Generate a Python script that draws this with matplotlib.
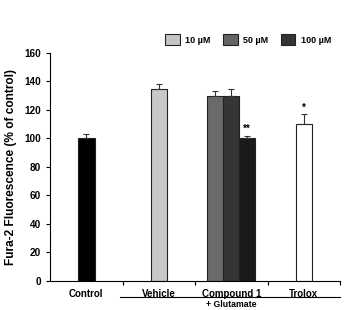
import numpy as np
import matplotlib.pyplot as plt
from matplotlib.patches import Patch

plt.rcParams['font.family'] = ['Liberation Sans', 'DejaVu Sans']

groups = ["Control", "Vehicle", "Compound 1", "Trolox"]
bar_pos = [0.5, 1.5, 2.28, 2.5, 2.72, 3.5]
bar_vals = [100, 135, 130, 130, 100, 110]
bar_errs = [3, 3, 3, 5, 2, 7]
bar_cols = ["#000000", "#c8c8c8", "#6a6a6a", "#353535", "#1a1a1a", "#ffffff"]
marks = ["", "", "", "", "**", "*"]
leg_labels = ["10 \u00b5M", "50 \u00b5M", "100 \u00b5M"]
leg_cols = ["#c4c4c4", "#656565", "#333333"]

fig = plt.figure(figsize=(3.48, 3.10), dpi=100)
ax = fig.add_axes([0.144, 0.094, 0.833, 0.735])

for x, v, e, c, m in zip(bar_pos, bar_vals, bar_errs, bar_cols, marks):
    ax.bar(x, v, width=0.225, color=c, edgecolor="#222222", linewidth=0.8)
    ax.errorbar(x, v, yerr=[[0], [e]], fmt="none", ecolor="#333333",
                elinewidth=0.8, capsize=2.5, capthick=0.8)
    if m:
        ax.text(x, v + e + 1, m, ha="center", va="bottom", fontsize=7,
                fontweight="bold")

ax.set_xlim(0, 4)
ax.set_ylim(0, 160)
ax.set_yticks(np.arange(0, 161, 20))
ax.set_xticks([1, 2, 3, 4])
ax.set_xticklabels([])
ax.tick_params(axis="both", direction="out", length=3, width=0.8, labelsize=7.2)
for lab in ax.get_yticklabels():
    lab.set_fontweight("bold")
for i, g in enumerate(groups):
    ax.text(i + 0.5, -6, g, ha="center", va="top", fontsize=7,
            fontweight="bold")
ax.spines["top"].set_visible(False)
ax.spines["right"].set_visible(False)
ax.spines["left"].set_linewidth(0.8)
ax.spines["bottom"].set_linewidth(0.8)
ax.set_ylabel("Fura-2 Fluorescence (% of control)", fontsize=8.6,
              fontweight="bold", labelpad=5)

# glutamate bracket
ax.plot([0.97, 4.0], [-11.3, -11.3], color="black", lw=0.8, clip_on=False)
fig.text(0.665, 0.002, "+ Glutamate", ha="center", va="bottom", fontsize=6.3,
         fontweight="bold")

handles = [Patch(facecolor=c, edgecolor="#222222", linewidth=0.8) for c in leg_cols]
fig.legend(handles, leg_labels, loc="center", bbox_to_anchor=(0.713, 0.871),
           ncol=3, frameon=False, handlelength=1.6, handleheight=1.5,
           columnspacing=1.4, handletextpad=0.6, prop={"weight": "bold", "size": 6.5})

fig.savefig("out.png", dpi=100)
